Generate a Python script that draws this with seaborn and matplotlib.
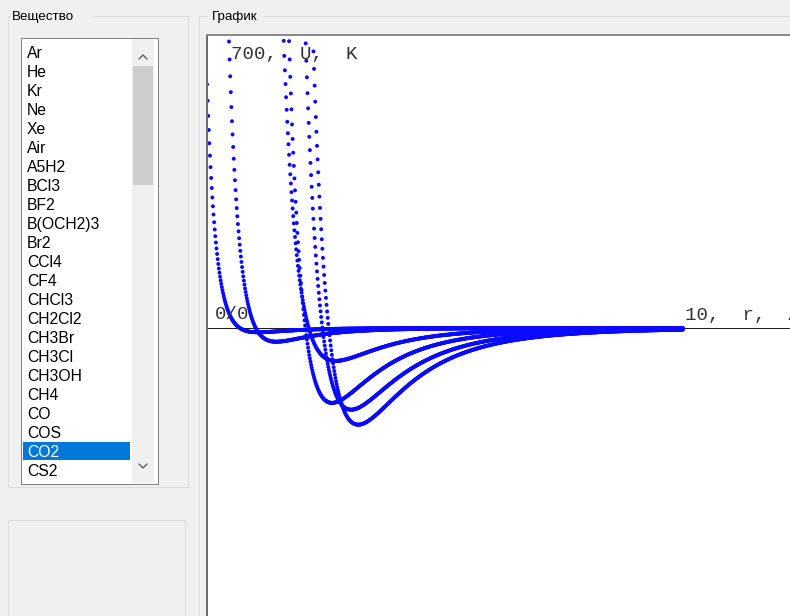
import numpy as np
import pandas as pd
import matplotlib
matplotlib.use("Agg")
import matplotlib.pyplot as plt
import seaborn as sns
from matplotlib.patches import Rectangle
from matplotlib.lines import Line2D

# Substances offered in the selector list
substances = ["Ar", "He", "Kr", "Ne", "Xe", "Air", "A5H2", "BCl3", "BF2", "B(OCH2)3",
              "Br2", "CCl4", "CF4", "CHCl3", "CH2Cl2", "CH3Br", "CH3Cl", "CH3OH",
              "CH4", "CO", "COS", "CO2", "CS2"]
selected = "CO2"

# Lennard-Jones parameters (sigma in angstrom, epsilon/k in kelvin) of the plotted gases
plotted = ["He", "Ne", "Air", "Kr", "CO2", "Xe"]
sigma_A = [2.551, 2.820, 3.711, 3.655, 3.941, 4.047]
eps_K = [10.22, 32.8, 78.6, 178.9, 195.2, 231.0]

# Radial grid of the calculation and axis limits
r_start, r_stop, r_step = 2.0, 10.0, 0.01
u_top = 700.0
axis_labels = ("0/0", "10,  r,  Å", "700,  U,  K")

rows = []
r = np.arange(r_start, r_stop + r_step / 2, r_step)
for name, sig, eps in zip(plotted, sigma_A, eps_K):
    u = 4.0 * eps * ((sig / r) ** 12 - (sig / r) ** 6)
    rows.append(pd.DataFrame({"substance": name, "r": r, "U": u}))
df = pd.concat(rows, ignore_index=True)

sns.set_style("white")
plt.rcParams["font.family"] = ["Liberation Sans", "DejaVu Sans"]

W, H = 790, 616
fig = plt.figure(figsize=(W / 100, H / 100), dpi=100)
fig.patch.set_facecolor("#f0f0f0")

# Window chrome in pixel coordinates
bg = fig.add_axes([0, 0, 1, 1])
bg.set_xlim(0, W)
bg.set_ylim(H, 0)
bg.axis("off")
PX = 0.72  # one pixel in points


def hline(x0, x1, y, color, w=1.0):
    bg.add_line(Line2D([x0, x1], [y, y], color=color, lw=w * PX, solid_capstyle="butt"))


def vline(x, y0, y1, color, w=1.0):
    bg.add_line(Line2D([x, x], [y0, y1], color=color, lw=w * PX, solid_capstyle="butt"))


frame = "#dcdcdc"
# "Вещество" group box
hline(8, 10, 16, frame)
hline(92, 188, 16, frame)
vline(8, 16, 487, frame)
vline(188, 16, 487, frame)
hline(8, 188, 487, frame)
bg.text(12, 20, "Вещество", fontsize=9.6, color="#000000", va="baseline", ha="left")

# lower empty panel
hline(8, 185, 520, frame)
vline(185, 520, H, frame)
vline(8, 520, H, frame)

# "График" group box
hline(199, 208, 16, frame)
hline(262, W, 16, frame)
vline(199, 16, H, frame)
bg.text(212, 20, "График", fontsize=9.6, color="#000000", va="baseline", ha="left")

# list box
bg.add_patch(Rectangle((21, 38), 137, 446, facecolor="white", edgecolor="#828282", lw=PX))
# scroll bar
bg.add_patch(Rectangle((132, 39), 22, 444, facecolor="#f0f0f0", edgecolor="none"))
bg.add_patch(Rectangle((133, 66), 20, 119, facecolor="#cdcdcd", edgecolor="none"))
bg.add_line(Line2D([139, 143, 147], [59, 55, 59], color="#606060", lw=1.4 * PX))
bg.add_line(Line2D([139, 143, 147], [464, 468, 464], color="#606060", lw=1.4 * PX))

for i, name in enumerate(substances):
    yc = 52 + 19.0 * i
    color = "#000000"
    if name == selected:
        bg.add_patch(Rectangle((23, yc - 9), 107, 18, facecolor="#0078d7", edgecolor="none"))
        color = "white"
    bg.text(27, yc + 6, name, fontsize=11.3, color=color, va="baseline", ha="left")

# Potential curves
x0_px, y0_px = 207, 35
px_per_A = 59.47
px_per_K = (328 - y0_px) / u_top
ax = fig.add_axes([x0_px / W, 0, (W - x0_px) / W, (H - y0_px) / H])
ax.set_facecolor("white")
ax.set_xlim(r_start, r_start + (W - x0_px) / px_per_A)
ax.set_ylim(-(H - 328) / px_per_K, u_top)
ax.axhline(0, color="#1e1e1e", lw=1.0 * PX, zorder=1)
sns.scatterplot(data=df, x="r", y="U", hue="substance", palette=["#0a0aff"] * len(plotted),
                legend=False, s=8, linewidth=0, marker="o", ax=ax, zorder=2)
ax.set_xticks([])
ax.set_yticks([])
ax.set_xlabel("")
ax.set_ylabel("")
for side in ("right", "bottom"):
    ax.spines[side].set_visible(False)
ax.spines["left"].set_color("#6d6d6d")
ax.spines["left"].set_linewidth(2 * PX)
ax.spines["top"].set_color("#8a8a8a")
ax.spines["top"].set_linewidth(2 * PX)

mono = dict(family=["Liberation Mono", "DejaVu Sans Mono"], fontsize=13.8, color="#333333",
            textcoords="offset pixels", ha="left", va="baseline", annotation_clip=False)
ax.annotate(axis_labels[0], xy=(r_start, 0), xytext=(8, 9), **mono)
ax.annotate(axis_labels[1], xy=(r_stop, 0), xytext=(2, 8), **mono)
ax.annotate(axis_labels[2], xy=(r_start, u_top), xytext=(24, -24), **mono)

fig.savefig("out.png", dpi=100, facecolor=fig.get_facecolor())
